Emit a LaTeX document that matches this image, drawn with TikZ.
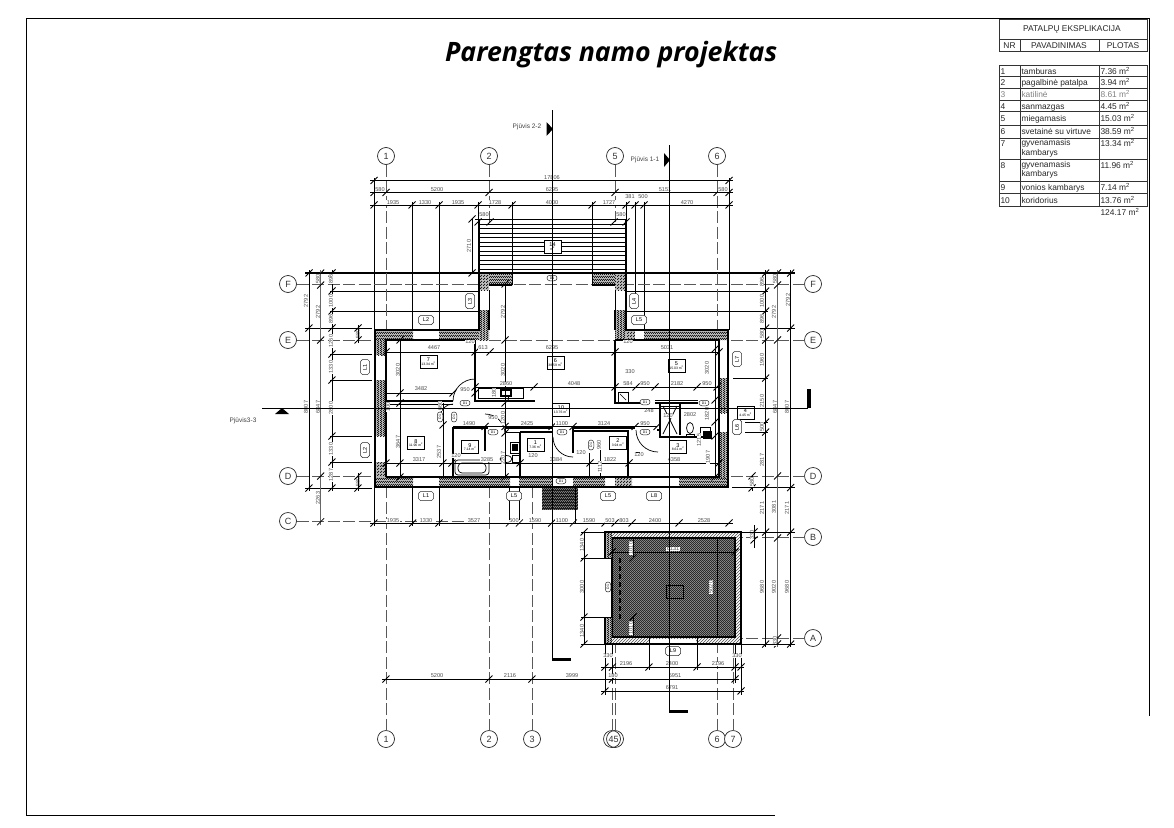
\documentclass[tikz,border=0pt]{standalone}
\usepackage{fontspec}
\setmainfont{Liberation Sans}
\newfontfamily\titlefont{Open Sans}
\usetikzlibrary{patterns,shapes.misc}
\pgfdeclarepatternformonly{finecheck}{\pgfqpoint{0pt}{0pt}}{\pgfqpoint{2.4pt}{2.4pt}}{\pgfqpoint{2.4pt}{2.4pt}}{%
    \pgfpathrectangle{\pgfqpoint{0pt}{0pt}}{\pgfqpoint{1.2pt}{1.2pt}}%
    \pgfpathrectangle{\pgfqpoint{1.2pt}{1.2pt}}{\pgfqpoint{1.2pt}{1.2pt}}%
    \pgfusepath{fill}%
}
\pgfdeclarepatternformonly{finedots}{\pgfqpoint{0pt}{0pt}}{\pgfqpoint{2.4pt}{2.4pt}}{\pgfqpoint{2.4pt}{2.4pt}}{%
    \pgfpathrectangle{\pgfqpoint{0pt}{0pt}}{\pgfqpoint{.8pt}{.8pt}}%
    \pgfpathrectangle{\pgfqpoint{1.2pt}{1.2pt}}{\pgfqpoint{.8pt}{.8pt}}%
    \pgfusepath{fill}%
}
\newcommand{\hchain}[2]{%
    \foreach \x in {#2}{
        \draw[dimtick] (\x-3.5,#1+3.5) -- (\x+3.5,#1-3.5);
    }
}
\newcommand{\vchain}[2]{%
    \foreach \y in {#2}{
        \draw[dimtick] (#1-3.5,\y+3.5) -- (#1+3.5,\y-3.5);
    }
}
\begin{document}
\begin{tikzpicture}[
    x=1pt,y=-1pt,
    every node/.style={
        inner sep=0pt,
        outer sep=0pt,
    },
    frameline/.style={
        draw=black,
        line width=.8pt,
    },
    cellline/.style={
        draw=black!80,
        line width=.8pt,
    },
    titletext/.style={
        font=\titlefont\bfseries\itshape\fontsize{26.7}{28}\selectfont,
        anchor=west,
    },
    tabletext/.style={
        font=\fontsize{8.4}{9.6}\selectfont,
        anchor=base west,
        align=left,
        text=black!85,
    },
    headtext/.style={
        font=\fontsize{8.4}{9.6}\selectfont,
        text=black!85,
    },
    axisnode/.style={
        draw=black!85,
        circle,
        line width=.7pt,
        minimum size=17pt,
        fill=white,
        text=black!80,
        font=\fontsize{9}{9}\selectfont,
    },
    axisline/.style={
        draw=black!65,
        line width=.9pt,
        dash pattern=on 12pt off 3.5pt,
    },
    sectionline/.style={
        draw=black,
        line width=.8pt,
    },
    sectionbar/.style={
        fill=black,
    },
    sectionhead/.style={
        fill=black,
    },
    sectiontext/.style={
        font=\fontsize{6.5}{7}\selectfont,
        text=black!75,
    },
    dimline/.style={
        draw=black,
        line width=.8pt,
    },
    extline/.style={
        draw=black,
        line width=1pt,
    },
    grayline/.style={
        draw=black!60,
        line width=1pt,
    },
    dimtick/.style={
        draw=black,
        line width=.8pt,
    },
    dimtext/.style={
        font=\fontsize{5.6}{5.6}\selectfont,
        text=black!70,
        fill=white,
        inner sep=.5pt,
    },
    wall/.style={
        fill=black!25,
        postaction={pattern=finecheck,pattern color=black!90},
    },
    darkfill/.style={
        fill=black!90,
        postaction={pattern=finedots,pattern color=white},
    },
    bandfill/.style={
        pattern=north east lines,
        pattern color=black!70,
    },
    wallline/.style={
        draw=black,
        line width=2pt,
    },
    innerwall/.style={
        draw=black,
        line width=1.5pt,
    },
    thinwall/.style={
        draw=black,
        line width=.7pt,
    },
    doorarc/.style={
        draw=black,
        line width=.7pt,
    },
    roomnode/.style={
        draw=black,
        line width=.7pt,
        fill=white,
        minimum width=17pt,
        minimum height=13pt,
        align=center,
        font=\fontsize{3.4}{3.8}\selectfont,
    },
    tagnode/.style={
        draw=black!85,
        chamfered rectangle,
        chamfered rectangle xsep=2.5pt,
        chamfered rectangle ysep=0pt,
        line width=.5pt,
        fill=white,
        minimum width=15pt,
        minimum height=9pt,
        font=\fontsize{5.5}{5.5}\selectfont,
    },
    doortag/.style={
        draw=black!85,
        rounded rectangle,
        line width=.5pt,
        fill=white,
        minimum width=10pt,
        minimum height=5.5pt,
        font=\fontsize{3.5}{3.5}\selectfont,
    },
]
    \useasboundingbox (0,0) rectangle (1174,827);
    % sheet frame
    \draw[frameline] (26,815) -- (26,18) -- (1149,18) -- (1149,716);
    \draw[frameline] (26,815) -- (775,815);
    \node[titletext] (title) at (445,54.5) {Parengtas namo projektas};
    % room table
    \draw[cellline] (999,19.5) rectangle (1147,51.5);
    \draw[cellline] (999,39) -- (1147,39);
    \draw[cellline] (1020,39) -- (1020,51.5);
    \draw[cellline] (1099,39) -- (1099,51.5);
    \node[headtext] (tablehead) at (1072,29.5) {PATALPŲ EKSPLIKACIJA};
    \node[headtext] (headnr) at (1009.5,45.5) {NR};
    \node[headtext] (headname) at (1059,45.5) {PAVADINIMAS};
    \node[headtext] (headarea) at (1123,45.5) {PLOTAS};
    \draw[cellline] (999,65) rectangle (1147,206);
    \foreach \y in {76.7,88.3,100.7,111.7,125,138.3,159.3,181.7,193.3}{
        \draw[cellline] (999,\y) -- (1147,\y);
    }
    \draw[cellline] (1020,65) -- (1020,206);
    \draw[cellline] (1099,65) -- (1099,206);
    \foreach \n/\y/\name/\area/\c in {%
        1/74/tamburas/7.36/85,
        2/85.5/pagalbinė patalpa/3.94/85,
        3/97.5/katilinė/8.61/50,
        4/109/sanmazgas/4.45/85,
        5/121.5/miegamasis/15.03/85,
        6/134.5/svetainė su virtuve/38.59/85,
        9/190.5/vonios kambarys/7.14/85,
        10/203/koridorius/13.76/85%no comma after
    }{
        \node[tabletext,text=black!\c] (nr\n) at (1000.5,\y) {\n};
        \node[tabletext,text=black!\c] (name\n) at (1021.5,\y) {\name};
        \node[tabletext,text=black!\c] (area\n) at (1100.5,\y) {\area{} m\textsuperscript{2}};
    }
    \node[tabletext] (nr7) at (1000.5,146.5) {7};
    \node[tabletext,anchor=north west] (name7) at (1021.5,139.5) {gyvenamasis\\kambarys};
    \node[tabletext] (area7) at (1100.5,146.5) {13.34 m\textsuperscript{2}};
    \node[tabletext] (nr8) at (1000.5,168) {8};
    \node[tabletext,anchor=north west] (name8) at (1021.5,161) {gyvenamasis\\kambarys};
    \node[tabletext] (area8) at (1100.5,168) {11.96 m\textsuperscript{2}};
    \node[tabletext] (areasum) at (1100.5,215) {124.17 m\textsuperscript{2}};
    % extension lines, top
    \foreach \x/\a/\b in {374/178/330,412/202/330,439/202/330,478/202/222,512/202/275,
        592/202/275,626/202/222,635/202/300,644/202/330,729/178/330}{
        \draw[extline] (\x,\a) -- (\x,\b);
    }
    % extension lines, sides
    \foreach \y in {291,311}{
        \draw[extline] (330,\y) -- (478,\y);
        \draw[extline] (627,\y) -- (768,\y);
    }
    \draw[extline,line width=1.2pt] (305,273) -- (478,273);
    \draw[extline,line width=1.2pt] (627,273) -- (795,273);
    \foreach \y in {354,380,436,462}{
        \draw[extline] (330,\y) -- (372,\y);
    }
    \draw[extline] (305,328) -- (372,328);
    \draw[extline] (305,488) -- (372,488);
    \draw[extline] (733,378) -- (768,378);
    \draw[extline] (745,422) -- (768,422);
    \draw[extline] (745,432) -- (768,432);
    \draw[extline,line width=1.2pt] (732,487.5) -- (795,487.5);
    \draw[extline] (760,328) -- (795,328);
    % axes
    \foreach \n/\x/\y in {1/386/330,2/489/222,5/615/222,6/717/330}{
        \node[axisnode] (top\n) at (\x,156) {\n};
        \coordinate (topend\n) at (\x,\y);
        \draw[axisline] (top\n) -- (topend\n);
    }
    \foreach \n/\x/\y in {1/386/488,2/489/488,3/532/488,6/717/645,7/733/645}{
        \node[axisnode] (bottom\n) at (\x,739) {\n};
        \coordinate (bottomend\n) at (\x,\y);
        \draw[axisline] (bottom\n) -- (bottomend\n);
    }
    \coordinate (bottomend4) at (612,645);
    \coordinate (bottomend5) at (615,645);
    \node[axisnode] (bottom4) at (612,739) {};
    \node[axisnode,fill=none] (bottom5) at (615,739) {};
    \node[font=\fontsize{9}{9}\selectfont,text=black!80] (bottom45) at (613.5,739) {45};
    \draw[axisline] (bottom4) -- (bottomend4);
    \draw[axisline] (bottom5) -- (bottomend5);
    \foreach \n/\y in {F/284,E/340,D/476,C/521}{
        \node[axisnode] (left\n) at (288,\y) {\n};
    }
    \foreach \n/\y in {F/284,E/340,D/476,B/537,A/638}{
        \node[axisnode] (right\n) at (813,\y) {\n};
    }
    \coordinate (leftendE) at (375,340);
    \coordinate (leftendD) at (375,476);
    \coordinate (leftendC) at (480,521);
    \coordinate (rightendE) at (729,340);
    \coordinate (rightendD) at (729,476);
    \coordinate (rightendB) at (741,537);
    \coordinate (rightendA) at (741,638);
    \draw[axisline] (leftF) -- (rightF);
    \foreach \n in {E,D,C}{
        \draw[axisline] (left\n) -- (leftend\n);
    }
    \foreach \n in {E,D,B,A}{
        \draw[axisline] (right\n) -- (rightend\n);
    }
    \draw[axisline] (489,340) -- (615,340);
    % dimension chains above
    \draw[dimline] (370,180.5) -- (733,180.5);
    \hchain{180.5}{374,729}
    \draw[dimline] (370,192.5) -- (733,192.5);
    \hchain{192.5}{374,386,489,615,717,729}
    \draw[dimline] (370,205) -- (733,205);
    \hchain{205}{374,412,439,478,512,592,626,635,644,729}
    \foreach \x/\y/\t in {552/178/17806,
        380/190/580,437/190/5200,552/190/6295,665/190/5151,723/190/580,
        393/202.5/1935,425/202.5/1330,458/202.5/1935,495/202.5/1728,552/202.5/4000,
        609/202.5/1727,630/197/381,643/197/500,687/202.5/4270}{
        \node[dimtext] (top\t at \x) at (\x,\y) {\t};
    }
    % terrace
    \foreach \y in {224,228.5,...,270}{
        \draw[thinwall] (479,\y) -- (626,\y);
    }
    \draw[innerwall,line width=1.6pt] (479,272) -- (479,219.5) -- (626,219.5) -- (626,272);
    \draw[dimline] (475,219) -- (626,219);
    \node[dimtext] (terrace580a) at (484,214.5) {580};
    \node[dimtext] (terrace580b) at (621,214.5) {580};
    \hchain{222}{478,490,614,626}
    \draw[dimline] (472,219) -- (472,273);
    \vchain{472}{219,273}
    \node[dimtext,rotate=90] (terrace2710) at (469,246) {2710};
    \node[roomnode] (room14) at (552.5,247) {{\fontsize{5.5}{5.5}\selectfont 14}\\m\textsuperscript{2}};
    % walls
    \foreach \a/\b/\c/\d in {%
        375/330/413/340,
        439/330/489/340,
        479/273/489/290,
        489/273/512/285,
        592/273/615/285,
        615/273/626/290,
        479/310/489/340,
        615/310/626/340,
        626/330/635/340,
        644/330/728/340,
        375/340/386/355,
        375/380/386/436,
        375/462/386/477,
        375/477/413/487,
        439/477/510/487,
        519/477/552/487,
        573/477/605/487,
        615/477/632/487,
        679/477/728/487,
        719/378/728/413,
        719/432/728/477%
    }{
        \fill[wall] (\a,\b) rectangle (\c,\d);
    }
    \fill[darkfill] (542,487) rectangle (578,510);
    \draw[wallline] (375,330) -- (479,330) -- (479,273) -- (626,273) -- (626,330) -- (728,330)
        -- (728,487) -- (375,487) -- cycle;
    \draw[innerwall] (386,477) -- (386,340) -- (475,340);
    \draw[innerwall] (386,477) -- (719,477) -- (719,340) -- (615,340);
    \draw[thinwall] (489,290) -- (489,330);
    \draw[thinwall] (615,290) -- (615,330);
    \draw[thinwall] (512,285) -- (512,273);
    \draw[thinwall] (592,285) -- (592,273);
    \draw[innerwall] (489,285) -- (512,285);
    \draw[innerwall] (592,285) -- (615,285);
    \draw[innerwall] (489,310) -- (489,330);
    \draw[innerwall] (615,310) -- (615,330);
    % inner walls
    \draw[innerwall] (475,340) -- (475,401) -- (535,401);
    \draw[innerwall] (386,401) -- (453,401);
    \draw[thinwall] (386,404) -- (453,404);
    \draw[innerwall] (453,477) -- (453,428) -- (488,428);
    \draw[innerwall] (505,428) -- (553,428);
    \draw[innerwall] (485,428) -- (485,451);
    \draw[innerwall] (520,432) -- (520,477);
    \draw[innerwall] (520,432) -- (553,432);
    \draw[thinwall] (505,428) -- (505,432) -- (520,432);
    \draw[innerwall] (573,453) -- (573,428) -- (635,428);
    \draw[innerwall] (573,431) -- (628,431) -- (628,477);
    \draw[innerwall] (589.5,477) -- (589.5,453);
    \draw[innerwall] (615,340) -- (615,403) -- (642,403);
    \draw[innerwall] (655,403) -- (698,403);
    \draw[thinwall] (655,400) -- (698,400);
    \draw[innerwall] (660,428) -- (660,437) -- (712,437);
    \draw[innerwall] (660,403) -- (660,428);
    \draw[innerwall] (680,403) -- (680,435);
    \draw[thinwall] (663,406) -- (677,434) (677,406) -- (663,434);
    \draw[thinwall] (660,406) -- (680,406);
    \draw[innerwall] (657,430) -- (660,430);
    % door swings
    \draw[doorarc] (453,401) arc[start angle=180,end angle=90,radius=22pt] -- (475,401);
    \draw[doorarc] (453,404) arc[start angle=90,end angle=180,radius=13pt];
    \draw[doorarc] (505,434) arc[start angle=0,end angle=90,radius=20pt];
    \draw[doorarc] (553,437) arc[start angle=180,end angle=270,radius=20pt] -- (573,457);
    \draw[doorarc] (636,430) arc[start angle=180,end angle=270,radius=22pt];
    \draw[thinwall] (636,452) -- (640,452);
    % fixtures
    \draw[thinwall,rounded corners=3pt] (455,460) rectangle (489,475);
    \draw[thinwall,rounded corners=4pt] (458,463) rectangle (486,473);
    \draw[thinwall] (478,388) rectangle (523,398);
    \draw[thinwall] (492,388) -- (492,398) (508,388) -- (508,398);
    \fill[black] (500,389) rectangle (512,397);
    \fill[white] (502,391) rectangle (510,395);
    \draw[thinwall] (510,442) rectangle (520,453);
    \fill[black] (512,444) rectangle (518,451);
    \draw[thinwall] (506,459) ellipse (6pt and 3.5pt);
    \draw[thinwall] (512,455) rectangle (519,462);
    \draw[thinwall] (690,428) ellipse (3.5pt and 5.5pt);
    \draw[thinwall] (686,434) rectangle (694,437);
    \draw[thinwall] (700,427) rectangle (710,437);
    \fill[black] (703,431) rectangle (712,439);
    \draw[thinwall] (618,392) rectangle (628,402);
    \draw[thinwall] (620,394) -- (626,400);
    % garage
    \fill[bandfill,even odd rule] (605,532) rectangle (741,644) (612,538) rectangle (735,637);
    \fill[darkfill] (612,538) rectangle (735,637);
    \fill[white] (600,558) rectangle (612,617);
    \draw[wallline,line width=2.4pt] (605,558) -- (605,532) -- (741,532) -- (741,644) -- (605,644) -- (605,617);
    \draw[innerwall] (612,637) -- (612,538) -- (735,538) -- (735,637) -- (612,637);
    \draw[innerwall,line width=2.4pt] (612,558) -- (612,617);
    \draw[innerwall,dash pattern=on 5pt off 3pt] (620,558) -- (620,620);
    \fill[wall] (606,533) rectangle (612,558);
    \fill[wall] (606,617) rectangle (612,643);
    \draw[thinwall] (649,644) -- (649,637) (697,644) -- (697,637);
    \fill[white] (650,638.5) rectangle (696,643);
    \draw[dimline] (612,552) -- (735,552);
    \draw[dimline] (717,538) -- (717,637);
    \draw[dimline] (633,538) -- (633,558) (633,617) -- (633,637);
    \hchain{552}{612,735}
    \vchain{633}{558,617}
    \node[dimtext] (garage6131) at (673,549) {6131};
    \node[dimtext,rotate=90] (garage5020) at (711,587) {5020};
    \node[dimtext,rotate=90] (garage1010a) at (631,548) {1010};
    \node[dimtext,rotate=90] (garage1010b) at (631,628) {1010};
    \node[roomnode,fill=none] (garagebox) at (675,591.5) {};
    % chains under the house
    \draw[dimline] (370,523) -- (733,523);
    \hchain{523}{374,412.7,439,509.3,519.3,551.7,573.3,605,615,632,679,729}
    \foreach \x/\y/\t in {393/521/1935,426/521/1330,474/521/3527,514/521/500,535/521/1590,
        562/521/1100,589/521/1590,610/521/503,624/521/803,655/521/2400,704/521/2528}{
        \node[dimtext] (lower\t at \x) at (\x,\y) {\t};
    }
    \foreach \x in {509.3,519.3}{
        \draw[extline] (\x,487) -- (\x,520);
    }
    \foreach \x in {374,412.7,439}{
        \draw[extline] (\x,488) -- (\x,526);
    }
    \foreach \x/\a/\b in {605/645/695,612.5/645/683,649/645/670,697/645/670,735/645/683,741/645/695}{
        \draw[extline] (\x,\a) -- (\x,\b);
    }
    \draw[extline] (575,523) -- (575,488);
    \draw[dimline] (584,532) -- (584,644);
    \vchain{584}{532,558,617,644}
    \foreach \y/\e in {532/605,558/612,617/612,644/605}{
        \draw[extline] (581,\y) -- (\e,\y);
    }
    \foreach \y/\t in {545/1340,587/3000,631/1340}{
        \node[dimtext,rotate=90] (garageleft\t at \y) at (582,\y) {\t};
    }
    \draw[dimline] (601,667) -- (744,667);
    \hchain{667}{605,612.5,649,697,735,741}
    \draw[dimline] (382,679) -- (739,679);
    \hchain{679}{386,489,532,612.5,735}
    \draw[dimline] (601,691) -- (744,691);
    \hchain{691}{605,741}
    \foreach \x/\y/\t in {608/656/330,626/664/2196,672/664/2400,718/664/2196,737/656/330,
        437/676/5200,510/676/2116,572/676/3999,613/676/180,675/676/5951,672/688/6791}{
        \node[dimtext] (under\t at \x) at (\x,\y) {\t};
    }
    % chains left
    \draw[dimline] (309,270) -- (309,491);
    \vchain{309}{273,328,488}
    \draw[grayline] (320.7,270) -- (320.7,525);
    \vchain{320.7}{273,285,340,476,521.7}
    \draw[dimline] (332,270) -- (332,491);
    \vchain{332}{273,291,311,328,354,380,436,462,488}
    \foreach \x/\y/\t in {306/301/2792,318/312/2792,306/407/8007,318/407/6847,318/498/2263,
        318/279/580,331/279/896,331/301/1000,331/319/896,331/341/1260,331/367/1330,
        331/408/2800,331/449/1330,331/475/1287,358/334/580,358/482/580}{
        \node[dimtext,rotate=90] (left\t at \y) at (\x,\y) {\t};
    }
    \draw[dimline] (358,325) -- (358,343) (358,473) -- (358,491);
    \vchain{358}{328,340,476,488}
    % chains right
    \draw[dimline] (765.7,270) -- (765.7,647);
    \vchain{765.7}{273,291,311,328,340,378,422,432,487.5,532,644}
    \draw[grayline] (777.5,270) -- (777.5,647);
    \vchain{777.5}{273,285,340,476,538,638,644}
    \draw[dimline] (790.7,270) -- (790.7,647);
    \vchain{790.7}{273,328,487.5,532,644}
    \foreach \x/\y/\t in {762/282/896,762/301/1000,762/319/896,762/334/580,762/360/1960,
        762/401/2150,762/427/500,762/460/2817,762/508/2171,762/587/9680,
        775/279/580,774/312/2792,775/407/6847,774/507/3081,774/587/9020,775/641/330,
        788/300/2792,787/407/8007,787/508/2171,787/587/9680}{
        \node[dimtext,rotate=90] (right\t at \y) at (\x,\y) {\t};
    }
    \draw[dimline] (754,525) -- (754,548) (752,476) -- (752,491);
    \vchain{754}{532,540}
    \vchain{752}{476,488}
    \node[dimtext,rotate=90] (right330) at (752,535) {330};
    \node[dimtext,rotate=90] (right580) at (752,482) {580};
    \draw[extline] (741,532) -- (795,532);
    \draw[extline] (741,644) -- (795,644);
    % dimensions in the rooms
    \draw[dimline] (386,352) -- (719,352);
    \hchain{352}{386,475,490,615,719}
    \draw[dimline] (386,393) -- (453,393);
    \hchain{393}{400,453,475}
    \draw[dimline] (475,387) -- (719,387);
    \hchain{387}{475,534,615,636,655,697,717}
    \draw[dimline] (453,426.5) -- (657,426.5);
    \hchain{426.5}{485,505,552,573,635,657}
    \draw[dimline] (386,463) -- (719,463);
    \hchain{463}{386,400,443,452,520,590,629,719}
    \draw[dimline] (400,340) -- (400,477);
    \vchain{400}{340,403,477}
    \draw[dimline] (443,403) -- (443,477);
    \vchain{443}{425}
    \draw[dimline] (505,284) -- (505,477);
    \vchain{505}{284,340,403,433,477}
    \draw[dimline] (715,340) -- (715,477);
    \vchain{715}{349,400,422,436,477}
    \draw[dimline] (600,450) -- (600,477);
    \foreach \x/\y/\t in {434/348/4467,552/348/6295,483/348/613,667/348/5031,421/389/3482,
        465/390/950,506/384/2860,574/384/4048,628/384/584,645/384/950,677/384/2182,707/384/950,
        630/372/330,469/424/1490,527/424/2425,562/424/1100,604/424/3124,645/424/950,
        419/460/3317,487/460/3285,556/460/3384,610/460/1822,674/460/4358,
        470/342/120,628/342/120,649/411/248,668/416/120,690/415/2802,
        456/456/120,493/418/950,533/456/120,581/453/120,639/455/120}{
        \node[dimtext] (room\t at \x) at (\x,\y) {\t};
    }
    \foreach \x/\y/\t in {398/370/3020,503/370/3020,707/368/3020,503/312/2792,398/442/3647,
        439/452/2537,440/406/660,503/458/2207,503/418/1200,494/393/180,388/407/100,
        708/457/1907,707/414/1820,699/440/1215,600/467/1112,599/445/960}{
        \node[dimtext,rotate=90] (room\t at \y) at (\x,\y) {\t};
    }
    % room boxes
    \foreach \n/\x/\y/\t in {%
        7/428.5/361.5/13.34,
        6/555.5/362.5/38.59,
        5/676.5/365.5/15.03,
        10/561/409.5/13.76,
        8/416/443/11.96,
        9/470/447/7.14,
        1/535.5/444.5/7.36,
        2/618/442.5/3.94,
        3/678/447/8.61,
        4/745.5/413/4.45%
    }{
        \node[roomnode] (room\n) at (\x,\y) {{\fontsize{5.5}{5.5}\selectfont \n}\\\t{} m\textsuperscript{2}};
    }
    % wall tags
    \foreach \n/\t/\x/\y in {a/L2/426/320,b/L1/426/496,c/L5/514/496,d/L5/608/496,
        e/L5/639/320,f/L8/654/496,g/L9/673/651}{
        \node[tagnode] (tag\n) at (\x,\y) {\t};
    }
    \foreach \n/\t/\x/\y in {h/L3/470/301,i/L4/634/301,j/L1/365/367,k/L2/365/450,
        l/L7/737/359,m/L6/737/427}{
        \node[tagnode,rotate=90] (tag\n) at (\x,\y) {\t};
    }
    % door tags
    \foreach \n/\x/\y in {a/552/278,b/465/403,c/493/432,d/562/432,e/561/481,f/645/402,g/704/403,h/645/432}{
        \node[doortag] (door\n) at (\x,\y) {D1};
    }
    \foreach \n/\x/\y in {i/440/417,j/454/417,k/591/445,l/608/587}{
        \node[doortag,rotate=90] (door\n) at (\x,\y) {D1};
    }
    % section marks
    \coordinate (cutaa) at (552,110);
    \coordinate (cutab) at (552,659);
    \coordinate (cutba) at (669,145);
    \coordinate (cutbb) at (669,711);
    \coordinate (cutca) at (262,408);
    \coordinate (cutcb) at (808,408);
    \draw[sectionline] (cutaa) -- (cutab);
    \draw[sectionline] (cutba) -- (cutbb);
    \draw[sectionline] (cutca) -- (cutcb);
    \fill[sectionbar] (552,657.5) rectangle (571,661);
    \fill[sectionbar] (669,709.5) rectangle (688,713);
    \fill[sectionbar] (806.5,389) rectangle (811,408);
    \fill[sectionhead] (546.5,122) -- (553,129) -- (546.5,136) -- cycle;
    \fill[sectionhead] (664,153) -- (670,160) -- (664,167) -- cycle;
    \fill[sectionhead] (275,414) -- (282,408) -- (289,414) -- cycle;
    \node[sectiontext] (cut22) at (527,127) {Pjūvis 2-2};
    \node[sectiontext] (cut11) at (645,160) {Pjūvis 1-1};
    \node[sectiontext] (cut33) at (243,421) {Pjūvis3-3};
\end{tikzpicture}
\end{document}
